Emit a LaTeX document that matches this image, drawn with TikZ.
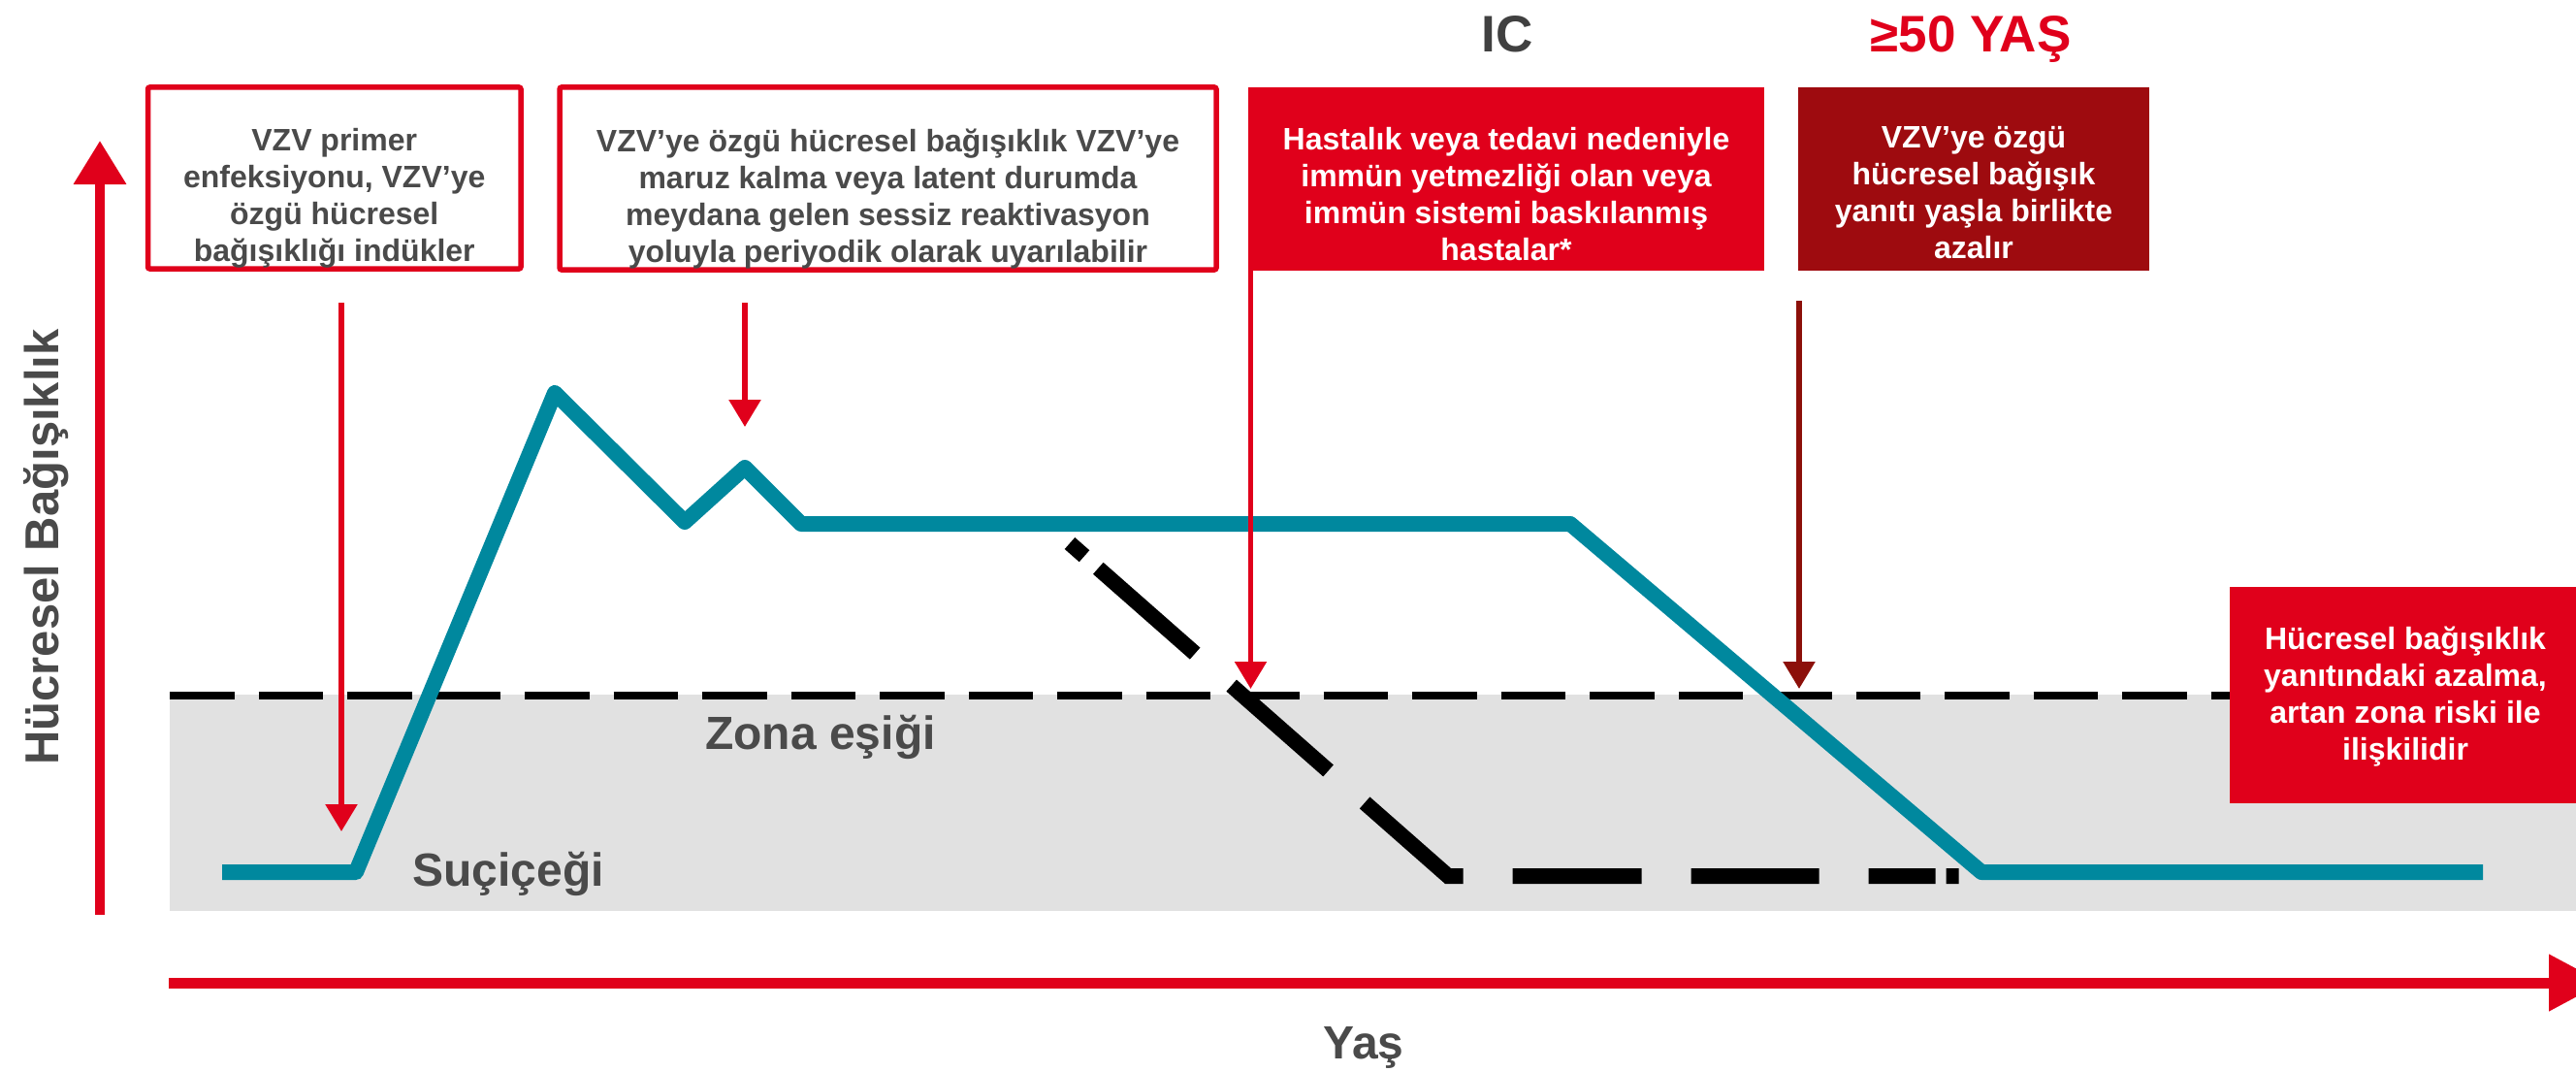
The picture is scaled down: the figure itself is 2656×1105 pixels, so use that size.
\documentclass[tikz,border=0pt]{standalone}
\usepackage{fontspec}
\setmainfont{Liberation Sans}
\usetikzlibrary{arrows.meta}
\definecolor{brand}{RGB}{224,0,27}
\definecolor{darkbrand}{RGB}{158,11,15}
\definecolor{darkarrow}{RGB}{140,16,10}
\definecolor{curveteal}{RGB}{0,136,158}
\definecolor{bandgrey}{RGB}{225,225,225}
\definecolor{txtgrey}{RGB}{74,74,74}
\definecolor{headgrey}{RGB}{64,64,64}
\begin{document}
\begin{tikzpicture}[x=1pt,y=-1pt,
  outlinebox/.style={draw=brand, line width=5.5pt, fill=white, rounded corners=2pt, inner sep=0pt},
  solidbox/.style={fill=#1, inner sep=0pt},
  boxtext/.style={font=\fontsize{32}{38}\selectfont\bfseries, align=center, inner sep=0pt, anchor=north},
  lbl/.style={font=\fontsize{48}{58}\selectfont\bfseries, text=txtgrey, inner sep=0pt, anchor=base},
  headline/.style={font=\fontsize{53}{62}\selectfont\bfseries, inner sep=0pt, anchor=base},
  callout/.style={-{Triangle[length=28pt,width=32pt]}, line width=5.5pt},
  axisarrow/.style={draw=brand, line width=#1},
  curve/.style={draw=curveteal, line width=16pt, line join=round},
  icpath/.style={draw=black, line width=16pt, line join=miter,
    dash pattern=on 20pt off 19pt on 133pt off 50pt on 133pt off 50pt on 130pt off 51pt on 133pt off 51pt on 132pt off 51pt on 69pt off 11pt on 13pt off 100pt},
  threshold/.style={draw=black, line width=8pt, dash pattern=on 66.5pt off 25pt}
]
\useasboundingbox (0,0) rectangle (2656,1105);

% grey zone band and threshold
\fill[bandgrey] (175,716) rectangle (2656,939);
\coordinate (thA) at (175,717);
\coordinate (thB) at (2656,717);
\draw[threshold] (thA) -- (thB);

% IC (black dash) course
\coordinate (icA) at (1103,560);
\coordinate (icB) at (1493,903);
\coordinate (icC) at (2020,903);
\draw[icpath] (icA) -- (icB) -- (icC);

% teal immunity curve
\coordinate (c0) at (229,899);
\coordinate (c1) at (367,899);
\coordinate (c2) at (572,405);
\coordinate (c3) at (706,538);
\coordinate (c4) at (768,482);
\coordinate (c5) at (826,540);
\coordinate (c6) at (1619,540);
\coordinate (c7) at (2043,899);
\coordinate (c8) at (2560,899);
\draw[curve] (c0) -- (c1) -- (c2) -- (c3) -- (c4) -- (c5) -- (c6) -- (c7) -- (c8);

% axes
\coordinate (yA) at (103,943);
\coordinate (yB) at (103,145);
\draw[axisarrow=10pt, -{Triangle[length=45pt,width=52pt]}, brand] (yA) -- (yB);
\coordinate (xA) at (174,1013);
\coordinate (xB) at (2684,1013);
\draw[axisarrow=11pt, -{Triangle[length=56pt,width=56pt]}, brand] (xA) -- (xB);

\node[lbl, font=\fontsize{49}{58}\selectfont\bfseries, rotate=90] (ylab) at (60,564) {Hücresel Bağışıklık};
\node[lbl] (xlab) at (1406,1091) {Yaş};
\node[lbl] (zona) at (846,772) {Zona eşiği};
\node[lbl] (sucicegi) at (524,913) {Suçiçeği};

% headings
\node[headline, text=headgrey] (ichead) at (1554,54) {IC};
\node[headline, text=brand] (agehead) at (2032,54) {≥50 YAŞ};

% boxes
\node[outlinebox, minimum width=384.5pt, minimum height=187pt] (box1) at (344.75,183.5) {};
\node[boxtext, text=txtgrey] (t1) at (344.75,132) {VZV primer\\enfeksiyonu, VZV’ye\\özgü hücresel\\bağışıklığı indükler};

\node[outlinebox, minimum width=677pt, minimum height=188pt] (box2) at (915.5,184) {};
\node[boxtext, text=txtgrey] (t2) at (915.5,133) {VZV’ye özgü hücresel bağışıklık VZV’ye\\maruz kalma veya latent durumda\\meydana gelen sessiz reaktivasyon\\yoluyla periyodik olarak uyarılabilir};

\node[solidbox=brand, minimum width=532pt, minimum height=189pt] (icbox) at (1553,184.5) {};
\node[boxtext, text=white] (t3) at (1553,131) {Hastalık veya tedavi nedeniyle\\immün yetmezliği olan veya\\immün sistemi baskılanmış\\hastalar*};

\node[solidbox=darkbrand, minimum width=362pt, minimum height=189pt] (agebox) at (2035,184.5) {};
\node[boxtext, text=white] (t4) at (2035,130.5) {VZV’ye özgü\\hücresel bağışık\\yanıtı yaşla birlikte\\azalır};

\node[solidbox=brand, minimum width=357pt, minimum height=223pt] (riskbox) at (2477.5,716.5) {};
\node[boxtext, text=white] (t5) at (2480,646) {Hücresel bağışıklık\\yanıtındaki azalma,\\artan zona riski ile\\ilişkilidir};

% callout arrows
\coordinate (a1s) at (352,312);
\coordinate (a1e) at (352,857);
\draw[callout, brand] (a1s) -- (a1e);
\coordinate (a2s) at (768,312);
\coordinate (a2e) at (768,440);
\draw[callout, brand] (a2s) -- (a2e);
\coordinate (a3s) at (1289.5,279);
\coordinate (a3e) at (1289.5,710);
\draw[callout, brand] (a3s) -- (a3e);
\coordinate (a4s) at (1855,310);
\coordinate (a4e) at (1855,710);
\draw[callout, darkarrow] (a4s) -- (a4e);
\end{tikzpicture}
\end{document}
